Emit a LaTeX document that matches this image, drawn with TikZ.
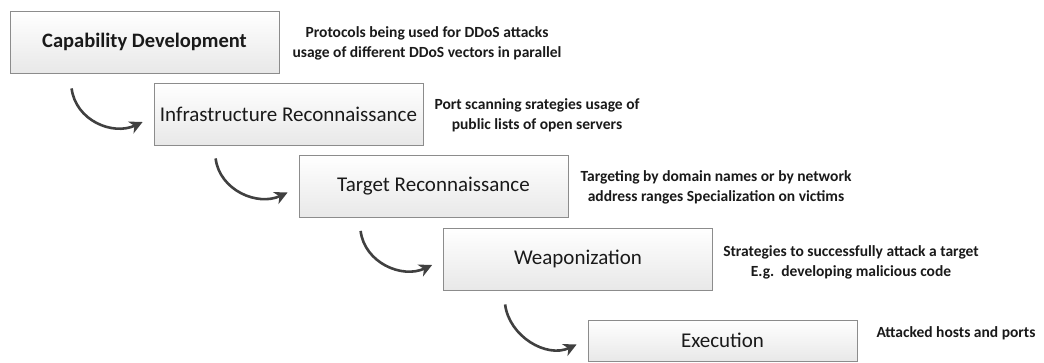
\documentclass[tikz,border=0pt]{standalone}
\usepackage{fontspec}
\setmainfont{Carlito}
\usetikzlibrary{arrows.meta,calc}
\definecolor{txt}{HTML}{1A1A1A}
\definecolor{arr}{HTML}{404040}
\definecolor{edge}{HTML}{8C8C8C}
\tikzset{
  stagebox/.style={draw=edge, line width=0.8pt, top color=white, bottom color=black!9,
    minimum width=269pt, minimum height=62pt, inner sep=0pt, text=txt,
    font=\fontsize{21}{24}\selectfont},
  descr/.style={align=center, text=txt, inner sep=0pt,
    font=\fontsize{15.5}{20}\selectfont\bfseries},
  flow/.style={draw=arr, line width=2.6pt, -{Stealth[length=13pt,width=13pt,inset=4pt]}},
}
\begin{document}
\begin{tikzpicture}[x=1pt,y=-1pt]
\useasboundingbox (0,0) rectangle (1044,362);
\node[stagebox, font=\fontsize{20.5}{24}\selectfont\bfseries] (c1) at (144.5,42) {Capability Development};
\node[stagebox] (c2) at (288.5,114) {Infrastructure Reconnaissance};
\node[stagebox] (c3) at (433.5,186.5) {Target Reconnaissance};
\node[stagebox] (c4) at (578,259) {Weaponization};
\node[stagebox, minimum height=41pt] (c5) at (722.5,340.5) {Execution};

\node[descr] (d1) at (427,43) {Protocols being used for DDoS attacks\\usage of different DDoS vectors in parallel};
\node[descr] (d2) at (537,115) {Port scanning srategies usage of\\public lists of open servers};
\node[descr] (d3) at (716,187) {Targeting by domain names or by network\\address ranges Specialization on victims};
\node[descr] (d4) at (851,262) {Strategies to successfully attack a target\\E.g.\ \ developing malicious code};
\node[descr] (d5) at (956,333) {Attacked hosts and ports};

\coordinate (s1) at ($(c1.south west)+(62,15)$);
\coordinate (e1) at ($(c2.west)+(-11,8)$);
\coordinate (s2) at ($(c2.south west)+(62,13)$);
\coordinate (e2) at ($(c3.west)+(-11,6)$);
\coordinate (s3) at ($(c3.south west)+(62,13)$);
\coordinate (e3) at ($(c4.west)+(-11,6)$);
\coordinate (s4) at ($(c4.south west)+(62,14)$);
\coordinate (e4) at ($(c5.west)+(-11,4)$);
\foreach \i in {1,2,3,4}{
  \draw[flow] (s\i) .. controls +(4,32) and +(-30,14) .. (e\i);
}
\end{tikzpicture}
\end{document}
